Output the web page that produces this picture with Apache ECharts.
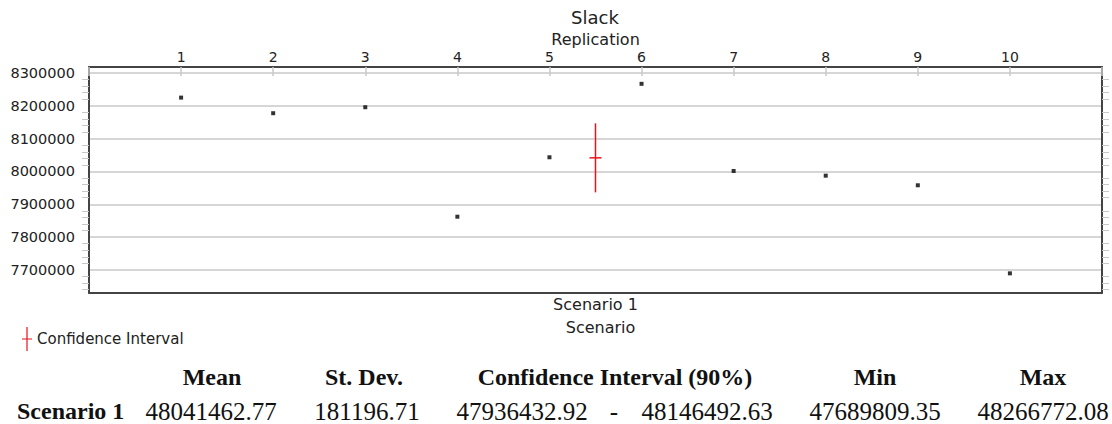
<!DOCTYPE html>
<html>
<head>
<meta charset="utf-8">
<script src="https://cdn.jsdelivr.net/npm/echarts@6/dist/echarts.min.js"></script>
<style>
  html, body { margin: 0; padding: 0; background: #fff; }
  #slack { width: 1112px; height: 424px; }
</style>
</head>
<body>
<div id="slack"></div>
<script>
  // replication values as plotted
  const replications = [1, 2, 3, 4, 5, 6, 7, 8, 9, 10];
  const slackValues = [8224800, 8177300, 8195500, 7862300, 8043200, 8266772, 8001500, 7987200, 7957900, 7689809];

  // confidence interval mark, drawn between replication 5 and 6
  const ciPos = [5.5];
  const ciMean = [8041462.77];
  const ciLow = [7936432.92];
  const ciHigh = [8146492.63];

  const scenarios = ['Scenario 1'];
  const statHeaders = ['Mean', 'St. Dev.', 'Confidence Interval (90%)', 'Min', 'Max'];
  const statValues = ['48041462.77', '181196.71', '47936432.92', '-', '48146492.63', '47689809.35', '48266772.08'];

  const headerX = [212, 364, 615, 875, 1043];
  const valueX = [211, 367, 522, 614, 707, 875, 1043];

  const sans = 'DejaVu Sans';
  const serif = 'Liberation Serif';
  const ink = '#222';

  let chart = echarts.init(document.getElementById('slack'), null, { renderer: 'svg' });

  let graphics = [{
    type: 'text', x: 595, y: 17,
    style: { text: 'Slack', font: '18px "' + sans + '"', fill: ink,
      align: 'center', verticalAlign: 'middle', textAlign: 'center', textVerticalAlign: 'middle' }
  }];
  statHeaders.forEach((h, i) => {
    graphics.push({
      type: 'text', x: headerX[i], y: 377,
      style: { text: h, font: 'bold 24px "' + serif + '"', fill: '#111',
        align: 'center', verticalAlign: 'middle', textAlign: 'center', textVerticalAlign: 'middle' }
    });
  });
  graphics.push({
    type: 'text', x: 17, y: 411,
    style: { text: scenarios[0], font: 'bold 24px "' + serif + '"', fill: '#111',
      align: 'left', verticalAlign: 'middle', textAlign: 'left', textVerticalAlign: 'middle' }
  });
  statValues.forEach((v, i) => {
    graphics.push({
      type: 'text', x: valueX[i], y: 411,
      style: { text: v, font: '25px "' + serif + '"', fill: '#111',
        align: 'center', verticalAlign: 'middle', textAlign: 'center', textVerticalAlign: 'middle' }
    });
  });

  chart.setOption({
    animation: false,
    textStyle: { fontFamily: sans },
    graphic: graphics,
    legend: {
      left: 17,
      top: 322,
      itemWidth: 10,
      itemHeight: 25,
      itemGap: 5,
      textStyle: { fontSize: 15, color: ink },
      data: [{
        name: 'Confidence Interval',
        icon: 'path://M4.4,0h1.2v11.4h4.4v1.2h-4.4v11.4h-1.2v-11.4h-4.4v-1.2h4.4z'
      }]
    },
    grid: { left: 89, right: 10, top: 67, bottom: 131 },
    xAxis: [{
      type: 'value',
      position: 'top',
      min: 0,
      max: 11,
      interval: 1,
      name: 'Replication',
      nameLocation: 'middle',
      nameGap: 20,
      nameMoveOverlap: false,
      nameTextStyle: { fontSize: 16, color: ink },
      axisLine: { lineStyle: { color: '#444', width: 2 } },
      axisTick: { inside: true, length: 9, lineStyle: { color: '#c8c8c8', width: 1.5 } },
      axisLabel: {
        fontSize: 14, color: ink, margin: 3,
        formatter: v => (v >= 1 && v <= 10 ? String(v) : '')
      },
      splitLine: { show: false }
    }, {
      type: 'category',
      position: 'bottom',
      data: scenarios,
      name: 'Scenario',
      nameLocation: 'middle',
      nameGap: 26,
      nameMoveOverlap: false,
      nameTextStyle: { fontSize: 16, color: ink, padding: [0, 0, 0, 10] },
      axisLine: { lineStyle: { color: '#444', width: 2 } },
      axisTick: { show: false },
      axisLabel: { fontSize: 16, color: ink, margin: 3 }
    }],
    yAxis: [{
      type: 'value',
      position: 'left',
      min: 7630000,
      max: 8318000,
      splitNumber: 7,
      axisLine: { show: true, lineStyle: { color: '#444', width: 2 } },
      axisTick: { show: false },
      minorTick: { show: true, splitNumber: 5, length: 7, lineStyle: { color: '#c8c8c8' } },
      axisLabel: {
        fontSize: 14.5, color: ink, margin: 14, showMinLabel: false, showMaxLabel: false,
        formatter: v => String(v)
      },
      splitLine: { lineStyle: { color: '#d6d6d6', width: 2 } }
    }, {
      type: 'value',
      position: 'right',
      min: 7630000,
      max: 8318000,
      splitNumber: 7,
      axisLine: { show: true, lineStyle: { color: '#444', width: 2 } },
      axisTick: { show: false },
      minorTick: { show: true, splitNumber: 5, length: 7, lineStyle: { color: '#c8c8c8' } },
      axisLabel: { show: false },
      splitLine: { show: false }
    }],
    series: [{
      type: 'scatter',
      xAxisIndex: 0,
      yAxisIndex: 0,
      symbol: 'rect',
      symbolSize: 4,
      itemStyle: { color: '#000' },
      data: replications.map((r, i) => [r, slackValues[i]])
    }, {
      type: 'custom',
      name: 'Confidence Interval',
      xAxisIndex: 0,
      yAxisIndex: 0,
      itemStyle: { color: '#e8141b' },
      renderItem(params, api) {
        let x = api.value(0);
        let mid = api.coord([x, api.value(1)]);
        let lo = api.coord([x, api.value(2)]);
        let hi = api.coord([x, api.value(3)]);
        let style = { stroke: '#e8141b', lineWidth: 1.5 };
        return {
          type: 'group',
          children: [
            { type: 'line', shape: { x1: hi[0], y1: hi[1], x2: lo[0], y2: lo[1] }, style: style },
            { type: 'line', shape: { x1: mid[0] - 6, y1: mid[1], x2: mid[0] + 6, y2: mid[1] }, style: style }
          ]
        };
      },
      data: ciPos.map((p, i) => [p, ciMean[i], ciLow[i], ciHigh[i]])
    }]
  });
</script>
</body>
</html>
